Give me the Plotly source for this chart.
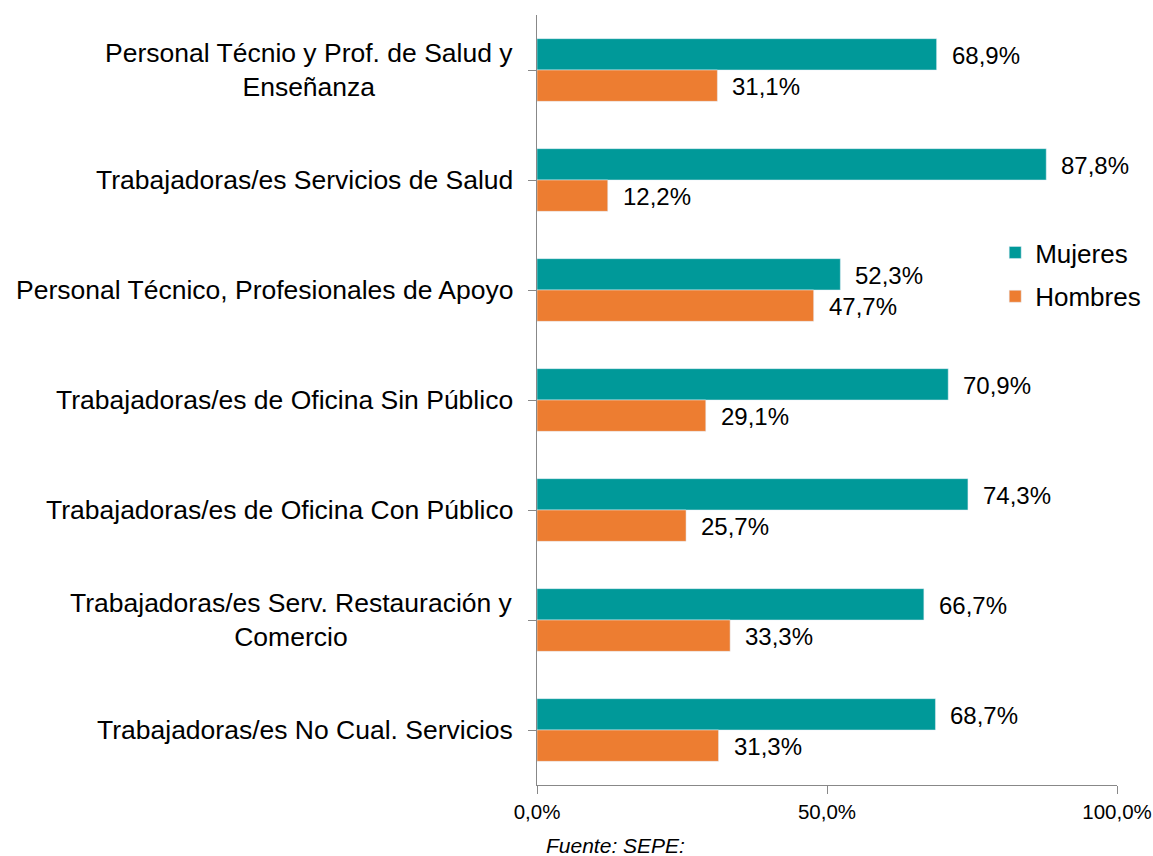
import plotly.graph_objects as go

categories = [
    "Personal Técnio y Prof. de Salud y<br>Enseñanza",
    "Trabajadoras/es Servicios de Salud",
    "Personal Técnico, Profesionales de Apoyo",
    "Trabajadoras/es de Oficina Sin Público",
    "Trabajadoras/es de Oficina Con Público",
    "Trabajadoras/es Serv. Restauración y<br>Comercio",
    "Trabajadoras/es No Cual. Servicios",
]
mujeres = [68.9, 87.8, 52.3, 70.9, 74.3, 66.7, 68.7]
hombres = [31.1, 12.2, 47.7, 29.1, 25.7, 33.3, 31.3]
x_ticks = [0, 50, 100]
x_ticktext = ["0,0%", "50,0%", "100,0%"]

TEAL = "#009999"
ORANGE = "#ED7D31"
FONT = "Liberation Sans, Arial, sans-serif"

ycat = list(range(len(categories)))

fig = go.Figure()
fig.add_trace(go.Bar(y=ycat, x=mujeres, orientation="h", name="Mujeres",
                     marker_color=TEAL, legendgroup="m"))
fig.add_trace(go.Bar(y=ycat, x=hombres, orientation="h", name="Hombres",
                     marker_color=ORANGE, legendgroup="h"))

def fmt(v):
    return f"{v:.1f}".replace(".", ",") + "%"

ann = []
for i, (m, h) in enumerate(zip(mujeres, hombres)):
    ann.append(dict(x=m, y=i, xref="x", yref="y", text=fmt(m), showarrow=False,
                    xanchor="left", xshift=13, yshift=15,
                    font=dict(size=24, color="#000", family=FONT)))
    ann.append(dict(x=h, y=i, xref="x", yref="y", text=fmt(h), showarrow=False,
                    xanchor="left", xshift=13, yshift=-16,
                    font=dict(size=24, color="#000", family=FONT)))
    ann.append(dict(x=0, y=i, xref="paper", yref="y", text=categories[i],
                    showarrow=False, xanchor="right", align="center",
                    xshift=-22, font=dict(size=26.5, color="#000", family=FONT)))

ann.append(dict(x=0, y=0, xref="paper", yref="paper", text="<i>Fuente: SEPE:</i>",
                showarrow=False, xanchor="left", yanchor="middle", xshift=7, yshift=-60,
                font=dict(size=21, color="#000", family=FONT)))

fig.update_layout(
    width=1153, height=856,
    margin=dict(l=537, r=36, t=15, b=71, autoexpand=False),
    paper_bgcolor="white", plot_bgcolor="white",
    barmode="group", bargap=0.43, bargroupgap=0,
    font=dict(family=FONT, color="#000"),
    showlegend=True,
    legend=dict(x=0.79, y=0.722, xanchor="left", yanchor="top",
                font=dict(size=26, family=FONT), tracegroupgap=7,
                bgcolor="rgba(0,0,0,0)"),
    annotations=ann,
)
fig.update_xaxes(range=[0, 100], tickvals=x_ticks, ticktext=x_ticktext,
                 showgrid=False, zeroline=False, showline=True, linecolor="#888",
                 linewidth=1, ticks="outside", ticklen=8, tickcolor="#888",
                 tickfont=dict(size=20.5, family=FONT, color="#000"))
fig.update_yaxes(range=[6.5, -0.5], tickvals=ycat, showticklabels=False,
                 showgrid=False, zeroline=False, showline=True, linecolor="#888",
                 linewidth=1, ticks="outside", ticklen=8, tickcolor="#888",
                 tickson="boundaries")

fig.write_html("out.html", config={"displayModeBar": False},
               post_script="document.body.style.margin='0';document.body.style.overflow='hidden';")
